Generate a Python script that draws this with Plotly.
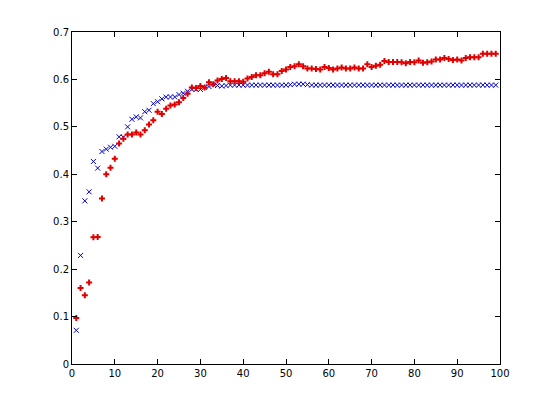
import plotly.graph_objects as go

x_vals = list(range(1, 100))

red_vals = [
    0.097, 0.160, 0.145, 0.172, 0.267, 0.268, 0.349, 0.400, 0.414, 0.433,
    0.465, 0.475, 0.484, 0.484, 0.488, 0.484, 0.493, 0.505, 0.514, 0.532,
    0.527, 0.538, 0.545, 0.547, 0.552, 0.561, 0.570, 0.583, 0.582, 0.586,
    0.583, 0.594, 0.590, 0.598, 0.601, 0.603, 0.596, 0.596, 0.596, 0.595,
    0.602, 0.605, 0.609, 0.609, 0.613, 0.616, 0.611, 0.611, 0.618, 0.621,
    0.626, 0.628, 0.632, 0.628, 0.623, 0.623, 0.622, 0.621, 0.626, 0.624,
    0.621, 0.623, 0.625, 0.623, 0.623, 0.625, 0.623, 0.623, 0.632, 0.626,
    0.629, 0.631, 0.639, 0.637, 0.637, 0.637, 0.636, 0.634, 0.637, 0.636,
    0.640, 0.635, 0.636, 0.638, 0.642, 0.642, 0.645, 0.643, 0.641, 0.642,
    0.640, 0.645, 0.647, 0.647, 0.647, 0.654, 0.654, 0.654, 0.654,
]

blue_vals = [
    0.071, 0.229, 0.344, 0.363, 0.427, 0.413, 0.448, 0.453, 0.457, 0.459,
    0.479, 0.478, 0.500, 0.516, 0.521, 0.519, 0.532, 0.535, 0.549, 0.553,
    0.559, 0.563, 0.563, 0.563, 0.568, 0.571, 0.575, 0.579, 0.579, 0.579,
    0.583, 0.585, 0.590, 0.587, 0.586, 0.587, 0.588, 0.588, 0.588, 0.588,
    0.588, 0.588, 0.588, 0.588, 0.588, 0.588, 0.588, 0.588, 0.588, 0.588,
    0.589, 0.590, 0.590, 0.590, 0.589, 0.588, 0.588, 0.588, 0.588, 0.588,
    0.588, 0.588, 0.588, 0.588, 0.588, 0.588, 0.588, 0.588, 0.588, 0.588,
    0.588, 0.588, 0.588, 0.588, 0.588, 0.588, 0.588, 0.588, 0.588, 0.588,
    0.588, 0.588, 0.588, 0.588, 0.588, 0.588, 0.588, 0.588, 0.588, 0.588,
    0.588, 0.588, 0.588, 0.588, 0.588, 0.588, 0.588, 0.588, 0.588,
]

x_ticks = [0, 10, 20, 30, 40, 50, 60, 70, 80, 90, 100]
y_ticks = [0, 0.1, 0.2, 0.3, 0.4, 0.5, 0.6, 0.7]
y_tick_labels = ["0", "0.1", "0.2", "0.3", "0.4", "0.5", "0.6", "0.7"]

fig = go.Figure()
fig.add_trace(go.Scatter(
    x=x_vals, y=blue_vals, mode="markers",
    marker=dict(symbol="x-thin-open", size=5, color="#0000c8",
                line=dict(width=1, color="#0000c8")),
    showlegend=False,
))
fig.add_trace(go.Scatter(
    x=x_vals, y=red_vals, mode="markers",
    marker=dict(symbol="cross", size=5, color="#e00000", line=dict(width=0)),
    showlegend=False,
))

axis_common = dict(
    showgrid=False, zeroline=False, showline=True, linecolor="black",
    linewidth=1, mirror="ticks", ticks="inside", ticklen=5,
    tickcolor="black", tickfont=dict(family="DejaVu Sans", size=10, color="black"),
)
fig.update_xaxes(range=[0, 100], tickvals=x_ticks, **axis_common)
fig.update_yaxes(range=[0, 0.7], tickvals=y_ticks, ticktext=y_tick_labels, **axis_common)

fig.update_layout(
    width=545, height=401,
    margin=dict(l=64, r=53, t=24, b=45),
    paper_bgcolor="white", plot_bgcolor="white",
)

fig.write_html("out.html")
